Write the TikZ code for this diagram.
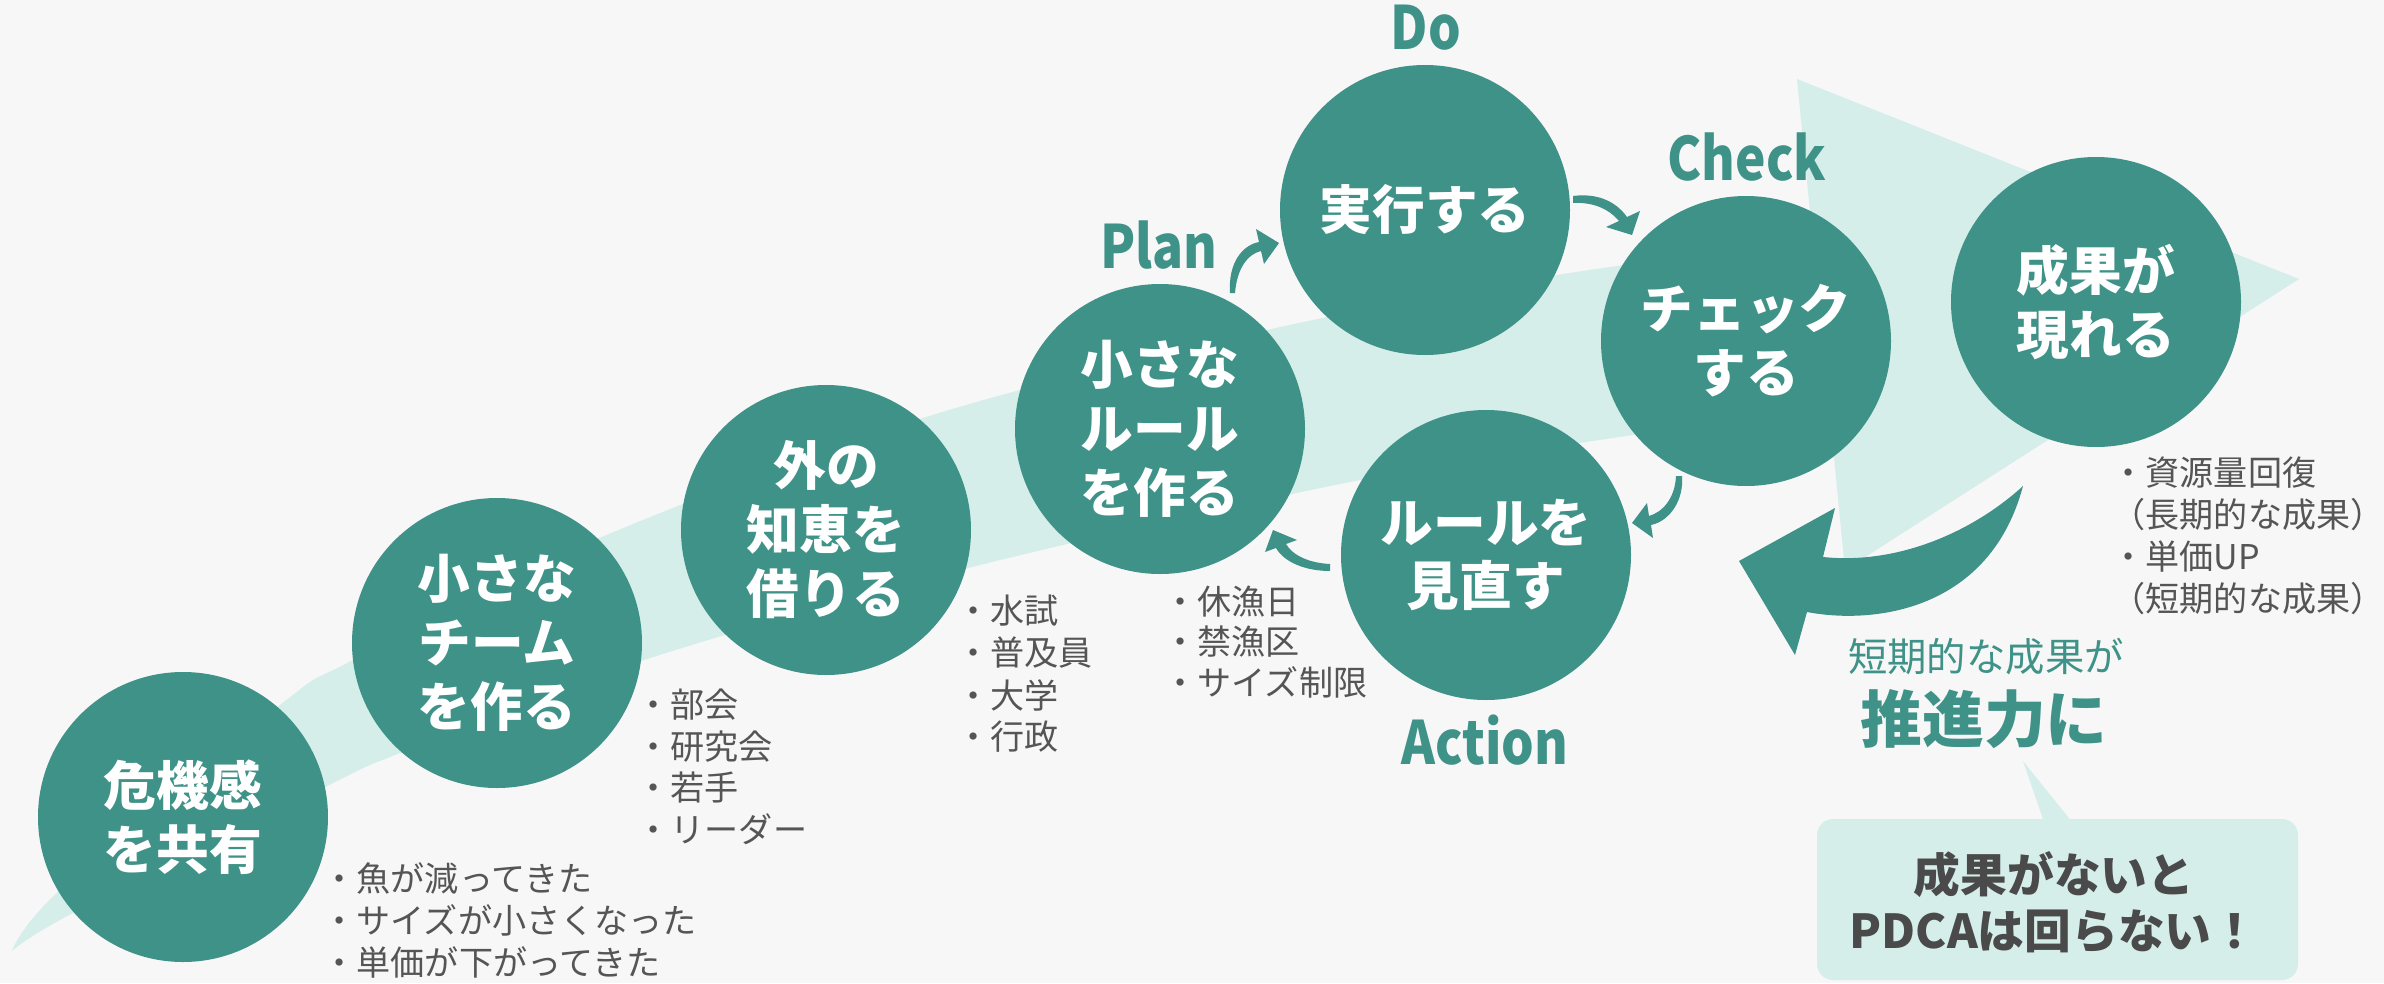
\documentclass[tikz,border=0pt]{standalone}
\usepackage{fontspec}
\setmainfont{Noto Sans CJK JP}
\newfontfamily\phasefont[FakeStretch=0.86]{Noto Sans CJK JP}
\definecolor{tealc}{HTML}{3F9287}
\definecolor{lightc}{HTML}{D5EEEA}
\definecolor{bgc}{HTML}{F7F7F7}
\definecolor{txtg}{HTML}{555555}
\definecolor{darkg}{HTML}{4A4A4A}
\begin{document}
\begin{tikzpicture}[x=0.1mm,y=-0.1mm,
  circ/.style={circle,fill=tealc,minimum size=29mm,inner sep=0pt,text=white,align=center,
    font=\bfseries\fontsize{15pt}{18.2pt}\selectfont},
  phase/.style={text=tealc,inner sep=0pt,font=\phasefont\bfseries\fontsize{17pt}{20pt}\selectfont},
  bul/.style={anchor=west,text=txtg,inner sep=0pt,font=\fontsize{9.7pt}{12pt}\selectfont},
  cyc/.style={fill=tealc}]
\fill[bgc] (0,0) rectangle (2384,983);
\useasboundingbox (0,0) rectangle (2384,983);

% light growth arrow
\fill[lightc] plot[smooth,tension=0.55] coordinates {(12,951) (60,890) (280,705) (353,660) (597,539) (926,417) (1267,330) (1557,275) (1830,238)}
  -- plot[smooth,tension=0.55] coordinates {(1840,408) (1633,435) (1360,480) (972,567) (641,661) (400,753) (325,787) (73,913) (12,951)} -- cycle;
\fill[lightc] (1797,79) -- (2299,279) -- (1845,570) -- cycle;

% circles
\node[circ] (c1) at (183,817) {危機感\\を共有};
\node[circ] (c2) at (497,643) {小さな\\チーム\\を作る};
\node[circ] (c3) at (826,530) {外の\\知恵を\\借りる};
\node[circ] (c4) at (1160,429) {小さな\\ルール\\を作る};
\node[circ] (c5) at (1425,210) {実行する};
\node[circ] (c6) at (1746,341) {チェック\\する};
\node[circ] (c7) at (1486,555) {ルールを\\見直す};
\node[circ] (c8) at (2096,302) {成果が\\現れる};

% big return arrow
\fill[tealc] (2023,486) .. controls (1975,530) and (1900,565) .. (1823,557) -- (1835,508) -- (1739,561) -- (1795,655) -- (1807,612)
  .. controls (1875,625) and (1990,610) .. (2023,486) -- cycle;

% small cycle arrows
\fill[cyc] (1230,293) .. controls (1228,262) and (1243,245) .. (1259,242) -- (1256,229) -- (1279,243) -- (1264,264) -- (1261,251)
  .. controls (1248,254) and (1237,268) .. (1235,293) -- cycle;
\fill[cyc] (1573,196) .. controls (1595,193) and (1615,200) .. (1627,217) -- (1640,211) -- (1632,235) -- (1606,227) -- (1619,221)
  .. controls (1608,208) and (1592,202) .. (1573,203) -- cycle;
\fill[cyc] (1682,476) .. controls (1684,500) and (1670,521) .. (1651,525) -- (1653,538) -- (1632,523) -- (1647,503) -- (1649,516)
  .. controls (1663,512) and (1675,498) .. (1676,476) -- cycle;
\fill[cyc] (1330,571) .. controls (1305,571) and (1284,562) .. (1276,548) -- (1265,552) -- (1273,530) -- (1297,540) -- (1286,544)
  .. controls (1293,556) and (1310,563) .. (1330,564) -- cycle;

% phase labels
\node[phase] (plan) at (1159,245) {Plan};
\node[phase] (do) at (1426,28) {Do};
\node[phase] (check) at (1747,157) {Check};
\node[phase] (action) at (1485,740) {Action};

% bullet lists
\foreach \t [count=\i] in {・魚が減ってきた,・サイズが小さくなった,・単価が下がってきた}
  \node[bul] (la\i) at (322,{878+42*(\i-1)}) {\t};
\foreach \t [count=\i] in {・部会,・研究会,・若手,・リーダー}
  \node[bul] (lb\i) at (636,{705+41.3*(\i-1)}) {\t};
\foreach \t [count=\i] in {・水試,・普及員,・大学,・行政}
  \node[bul] (lc\i) at (956,{611+42*(\i-1)}) {\t};
\foreach \t [count=\i] in {・休漁日,・禁漁区,・サイズ制限}
  \node[bul] (ld\i) at (1163,{602+40*(\i-1)}) {\t};
\foreach \t [count=\i] in {・資源量回復,（長期的な成果）,・単価UP,（短期的な成果）}
  \node[bul] (le\i) at (2111,{473+41.7*(\i-1)}) {\t};

% short-term results text
\node[text=tealc,inner sep=0pt,font=\fontsize{11.2pt}{13pt}\selectfont] (sk) at (1986,657) {短期的な成果が};
\node[text=tealc,inner sep=0pt,font=\bfseries\fontsize{17.6pt}{20pt}\selectfont] (sn) at (1984,719) {推進力に};

% callout
\fill[lightc] (2023,761) -- (2044,822) -- (2072,822) -- cycle;
\fill[lightc,rounded corners=1.6mm] (1817,819) rectangle (2298,980);
\node[text=darkg,inner sep=0pt,align=center,font=\bfseries\fontsize{13.3pt}{15.9pt}\selectfont] (msg) at (2054,902) {成果がないと\\PDCAは回らない！};
\end{tikzpicture}
\end{document}
